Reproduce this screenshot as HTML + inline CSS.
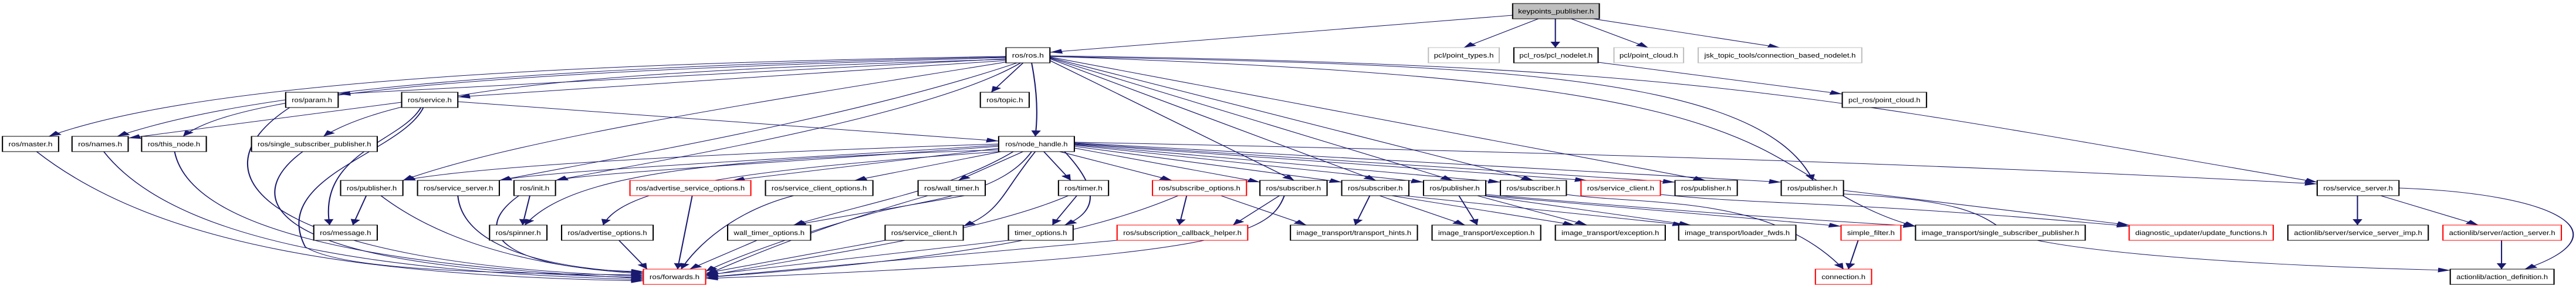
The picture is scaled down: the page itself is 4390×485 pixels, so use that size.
<!DOCTYPE html>
<html><head><meta charset="utf-8"><style>
html,body{margin:0;padding:0;background:#fff;}
svg{display:block;}
text{font-family:"Liberation Sans",sans-serif;font-size:11px;fill:#000;}
.e{fill:none;stroke:#191970;stroke-width:1;}
.n{fill:#fff;stroke:#000;stroke-width:1;}
.r{fill:#fff;stroke:#ff0000;stroke-width:1;}
.g{fill:#fff;stroke:#bfbfbf;stroke-width:1;}
</style></head><body>
<svg width="4390" height="485" viewBox="0 0 2110 485" preserveAspectRatio="none" xmlns="http://www.w3.org/2000/svg">
<defs><marker id="a" markerUnits="userSpaceOnUse" markerWidth="10" markerHeight="8" refX="10" refY="4" orient="auto"><path d="M0,0 L10,4 L0,8 z" fill="#191970"/></marker></defs>
<g class="e" marker-end="url(#a)">
<path d="M1239,26 L860,89"/>
<path d="M1260,32 L1199,81"/>
<path d="M1274,32 L1274,81"/>
<path d="M1287,32 L1350,81"/>
<path d="M1305,32 L1458,81"/>
<path d="M1309,106 L1509,160"/>
<path d="M824,96 C400,110 150,150 40,232"/>
<path d="M824,97 C400,115 200,160 96,232"/>
<path d="M824,98 C450,120 200,150 150,232"/>
<path d="M824,100 L277,160"/>
<path d="M824,103 L375,165"/>
<path d="M824,101 C500,120 330,150 265,232"/>
<path d="M826,105 C600,180 420,240 330,307"/>
<path d="M833,107 C700,200 500,270 409,307"/>
<path d="M836,107 C760,200 520,280 455,307"/>
<path d="M838,107 L812,157"/>
<path d="M845,107 C850,160 850,200 848,232"/>
<path d="M860,103 L1060,307"/>
<path d="M860,100 L1127,307"/>
<path d="M860,99 L1190,307"/>
<path d="M860,98 L1256,307"/>
<path d="M860,97 L1397,307"/>
<path d="M860,96 C1200,110 1440,120 1485,307"/>
<path d="M860,95 C1400,110 1500,170 1898,310"/>
<path d="M860,96 C1200,120 1350,160 1440,250 C1480,290 1520,360 1569,385"/>
<path d="M329,174 L105,235"/>
<path d="M375,173 L818,240"/>
<path d="M345,182 C330,240 260,260 270,383"/>
<path d="M238,182 C150,300 220,450 527,470"/>
<path d="M30,258 C130,420 300,470 527,478"/>
<path d="M85,258 C150,430 350,465 527,476"/>
<path d="M143,258 C160,430 400,460 527,474"/>
<path d="M248,258 C200,330 200,460 527,472"/>
<path d="M347,182 C330,260 220,300 250,420 C280,460 400,465 527,468"/>
<path d="M300,333 L289,383"/>
<path d="M312,333 C380,440 480,460 527,466"/>
<path d="M375,333 C380,440 480,460 527,464"/>
<path d="M434,333 L428,383"/>
<path d="M425,333 C380,400 420,460 527,462"/>
<path d="M818,245 C600,260 400,280 330,307"/>
<path d="M818,247 C650,270 450,290 409,307"/>
<path d="M818,249 C650,275 480,295 455,307"/>
<path d="M820,252 L600,307"/>
<path d="M825,256 L700,307"/>
<path d="M838,258 L785,307"/>
<path d="M855,258 L877,307"/>
<path d="M868,258 L960,307"/>
<path d="M880,252 L1032,310"/>
<path d="M880,249 L1099,310"/>
<path d="M880,247 L1166,310"/>
<path d="M880,246 L1229,310"/>
<path d="M880,245 L1300,307"/>
<path d="M880,244 L1372,310"/>
<path d="M880,243 L1459,310"/>
<path d="M880,242 C1300,260 1600,280 1898,313"/>
<path d="M818,255 C600,270 470,290 430,383"/>
<path d="M818,258 C600,290 510,320 494,383"/>
<path d="M830,258 C780,320 720,340 650,383"/>
<path d="M848,258 C820,330 820,360 789,385"/>
<path d="M872,258 C900,320 900,360 872,383"/>
<path d="M845,258 C820,330 760,340 720,360 C650,400 600,440 578,462"/>
<path d="M567,333 L555,458"/>
<path d="M650,333 C600,360 570,420 558,458"/>
<path d="M790,333 L650,383"/>
<path d="M760,333 C680,380 620,430 578,468"/>
<path d="M882,333 L862,383"/>
<path d="M875,333 C800,400 650,440 578,470"/>
<path d="M972,333 L966,383"/>
<path d="M965,333 C900,390 800,440 578,472"/>
<path d="M1000,333 L1070,383"/>
<path d="M1048,333 L1010,383"/>
<path d="M1052,333 C1040,400 1000,440 578,474"/>
<path d="M507,409 L530,458"/>
<path d="M620,409 L565,458"/>
<path d="M725,409 L578,465"/>
<path d="M826,409 L578,468"/>
<path d="M915,409 L578,472"/>
<path d="M1122,333 L1110,383"/>
<path d="M1130,333 L1200,383"/>
<path d="M1140,333 L1290,383"/>
<path d="M1150,333 L1380,383"/>
<path d="M1195,333 L1210,383"/>
<path d="M1210,333 L1300,383"/>
<path d="M1215,333 L1385,383"/>
<path d="M1217,333 L1508,385"/>
<path d="M1217,331 C1380,360 1450,370 1569,385"/>
<path d="M1283,331 C1350,350 1450,330 1510,458"/>
<path d="M1360,331 C1450,350 1500,340 1744,385"/>
<path d="M1510,324 L1744,383"/>
<path d="M1510,330 C1600,340 1620,360 1640,390 C1660,420 1800,450 2007,460"/>
<path d="M1522,409 L1514,458"/>
<path d="M1931,333 L1931,383"/>
<path d="M1950,333 L2030,383"/>
<path d="M1965,320 C2100,330 2150,400 2068,458"/>
<path d="M2049,409 L2049,458"/>
</g>
<g>
<rect x="1239" y="6" width="71" height="26" fill="#bfbfbf" stroke="#000"/><text x="1274.5" y="23" text-anchor="middle" textLength="62" lengthAdjust="spacingAndGlyphs">keypoints_publisher.h</text>
<rect class="n" x="824" y="81" width="36" height="26"/><text x="842" y="98" text-anchor="middle" textLength="26" lengthAdjust="spacingAndGlyphs">ros/ros.h</text>
<rect class="g" x="1170" y="81" width="58" height="26"/><text x="1199" y="98" text-anchor="middle" textLength="49" lengthAdjust="spacingAndGlyphs">pcl/point_types.h</text>
<rect class="n" x="1240" y="81" width="69" height="26"/><text x="1274.5" y="98" text-anchor="middle" textLength="60" lengthAdjust="spacingAndGlyphs">pcl_ros/pcl_nodelet.h</text>
<rect class="g" x="1322" y="81" width="57" height="26"/><text x="1350.5" y="98" text-anchor="middle" textLength="48" lengthAdjust="spacingAndGlyphs">pcl/point_cloud.h</text>
<rect class="g" x="1391" y="81" width="134" height="26"/><text x="1458" y="98" text-anchor="middle" textLength="124" lengthAdjust="spacingAndGlyphs">jsk_topic_tools/connection_based_nodelet.h</text>
<rect class="n" x="234" y="157" width="43" height="26"/><text x="255.5" y="174" text-anchor="middle" textLength="33" lengthAdjust="spacingAndGlyphs">ros/param.h</text>
<rect class="n" x="329" y="157" width="46" height="26"/><text x="352" y="174" text-anchor="middle" textLength="36" lengthAdjust="spacingAndGlyphs">ros/service.h</text>
<rect class="n" x="803" y="157" width="40" height="26"/><text x="823" y="174" text-anchor="middle" textLength="30" lengthAdjust="spacingAndGlyphs">ros/topic.h</text>
<rect class="n" x="1509" y="157" width="69" height="26"/><text x="1543.5" y="174" text-anchor="middle" textLength="59" lengthAdjust="spacingAndGlyphs">pcl_ros/point_cloud.h</text>
<rect class="n" x="2" y="232" width="46" height="26"/><text x="25" y="249" text-anchor="middle" textLength="36" lengthAdjust="spacingAndGlyphs">ros/master.h</text>
<rect class="n" x="59" y="232" width="46" height="26"/><text x="82" y="249" text-anchor="middle" textLength="36" lengthAdjust="spacingAndGlyphs">ros/names.h</text>
<rect class="n" x="116" y="232" width="53" height="26"/><text x="142.5" y="249" text-anchor="middle" textLength="43" lengthAdjust="spacingAndGlyphs">ros/this_node.h</text>
<rect class="n" x="206" y="232" width="103" height="26"/><text x="257.5" y="249" text-anchor="middle" textLength="93" lengthAdjust="spacingAndGlyphs">ros/single_subscriber_publisher.h</text>
<rect class="n" x="818" y="232" width="62" height="26"/><text x="849" y="249" text-anchor="middle" textLength="51" lengthAdjust="spacingAndGlyphs">ros/node_handle.h</text>
<rect class="n" x="279" y="307" width="51" height="26"/><text x="304.5" y="324" text-anchor="middle" textLength="41" lengthAdjust="spacingAndGlyphs">ros/publisher.h</text>
<rect class="n" x="342" y="307" width="67" height="26"/><text x="375.5" y="324" text-anchor="middle" textLength="57" lengthAdjust="spacingAndGlyphs">ros/service_server.h</text>
<rect class="n" x="421" y="307" width="34" height="26"/><text x="438" y="324" text-anchor="middle" textLength="24" lengthAdjust="spacingAndGlyphs">ros/init.h</text>
<rect class="r" x="516" y="307" width="99" height="26"/><text x="565.5" y="324" text-anchor="middle" textLength="89" lengthAdjust="spacingAndGlyphs">ros/advertise_service_options.h</text>
<rect class="n" x="627" y="307" width="88" height="26"/><text x="671" y="324" text-anchor="middle" textLength="78" lengthAdjust="spacingAndGlyphs">ros/service_client_options.h</text>
<rect class="n" x="752" y="307" width="55" height="26"/><text x="779.5" y="324" text-anchor="middle" textLength="45" lengthAdjust="spacingAndGlyphs">ros/wall_timer.h</text>
<rect class="n" x="867" y="307" width="41" height="26"/><text x="887.5" y="324" text-anchor="middle" textLength="31" lengthAdjust="spacingAndGlyphs">ros/timer.h</text>
<rect class="r" x="944" y="307" width="77" height="26"/><text x="982.5" y="324" text-anchor="middle" textLength="67" lengthAdjust="spacingAndGlyphs">ros/subscribe_options.h</text>
<rect class="n" x="1032" y="307" width="55" height="26"/><text x="1059.5" y="324" text-anchor="middle" textLength="45" lengthAdjust="spacingAndGlyphs">ros/subscriber.h</text>
<rect class="n" x="1099" y="307" width="55" height="26"/><text x="1126.5" y="324" text-anchor="middle" textLength="45" lengthAdjust="spacingAndGlyphs">ros/subscriber.h</text>
<rect class="n" x="1166" y="307" width="51" height="26"/><text x="1191.5" y="324" text-anchor="middle" textLength="41" lengthAdjust="spacingAndGlyphs">ros/publisher.h</text>
<rect class="n" x="1229" y="307" width="54" height="26"/><text x="1256" y="324" text-anchor="middle" textLength="44" lengthAdjust="spacingAndGlyphs">ros/subscriber.h</text>
<rect class="r" x="1295" y="307" width="65" height="26"/><text x="1327.5" y="324" text-anchor="middle" textLength="55" lengthAdjust="spacingAndGlyphs">ros/service_client.h</text>
<rect class="n" x="1372" y="307" width="51" height="26"/><text x="1397.5" y="324" text-anchor="middle" textLength="41" lengthAdjust="spacingAndGlyphs">ros/publisher.h</text>
<rect class="n" x="1459" y="307" width="51" height="26"/><text x="1484.5" y="324" text-anchor="middle" textLength="41" lengthAdjust="spacingAndGlyphs">ros/publisher.h</text>
<rect class="n" x="1898" y="307" width="67" height="26"/><text x="1931.5" y="324" text-anchor="middle" textLength="57" lengthAdjust="spacingAndGlyphs">ros/service_server.h</text>
<rect class="n" x="257" y="383" width="52" height="26"/><text x="283" y="400" text-anchor="middle" textLength="42" lengthAdjust="spacingAndGlyphs">ros/message.h</text>
<rect class="n" x="401" y="383" width="47" height="26"/><text x="424.5" y="400" text-anchor="middle" textLength="37" lengthAdjust="spacingAndGlyphs">ros/spinner.h</text>
<rect class="n" x="460" y="383" width="75" height="26"/><text x="497.5" y="400" text-anchor="middle" textLength="65" lengthAdjust="spacingAndGlyphs">ros/advertise_options.h</text>
<rect class="n" x="596" y="383" width="68" height="26"/><text x="630" y="400" text-anchor="middle" textLength="58" lengthAdjust="spacingAndGlyphs">wall_timer_options.h</text>
<rect class="n" x="725" y="383" width="64" height="26"/><text x="757" y="400" text-anchor="middle" textLength="54" lengthAdjust="spacingAndGlyphs">ros/service_client.h</text>
<rect class="n" x="826" y="383" width="53" height="26"/><text x="852.5" y="400" text-anchor="middle" textLength="43" lengthAdjust="spacingAndGlyphs">timer_options.h</text>
<rect class="r" x="915" y="383" width="107" height="26"/><text x="968.5" y="400" text-anchor="middle" textLength="97" lengthAdjust="spacingAndGlyphs">ros/subscription_callback_helper.h</text>
<rect class="n" x="1057" y="383" width="104" height="26"/><text x="1109" y="400" text-anchor="middle" textLength="94" lengthAdjust="spacingAndGlyphs">image_transport/transport_hints.h</text>
<rect class="n" x="1173" y="383" width="89" height="26"/><text x="1217.5" y="400" text-anchor="middle" textLength="79" lengthAdjust="spacingAndGlyphs">image_transport/exception.h</text>
<rect class="n" x="1274" y="383" width="90" height="26"/><text x="1319" y="400" text-anchor="middle" textLength="80" lengthAdjust="spacingAndGlyphs">image_transport/exception.h</text>
<rect class="n" x="1375" y="383" width="96" height="26"/><text x="1423" y="400" text-anchor="middle" textLength="86" lengthAdjust="spacingAndGlyphs">image_transport/loader_fwds.h</text>
<rect class="r" x="1508" y="383" width="49" height="26"/><text x="1532.5" y="400" text-anchor="middle" textLength="39" lengthAdjust="spacingAndGlyphs">simple_filter.h</text>
<rect class="n" x="1569" y="383" width="139" height="26"/><text x="1638.5" y="400" text-anchor="middle" textLength="129" lengthAdjust="spacingAndGlyphs">image_transport/single_subscriber_publisher.h</text>
<rect class="r" x="1744" y="383" width="118" height="26"/><text x="1803" y="400" text-anchor="middle" textLength="108" lengthAdjust="spacingAndGlyphs">diagnostic_updater/update_functions.h</text>
<rect class="n" x="1874" y="383" width="115" height="26"/><text x="1931.5" y="400" text-anchor="middle" textLength="105" lengthAdjust="spacingAndGlyphs">actionlib/server/service_server_imp.h</text>
<rect class="r" x="2001" y="383" width="97" height="26"/><text x="2049.5" y="400" text-anchor="middle" textLength="87" lengthAdjust="spacingAndGlyphs">actionlib/server/action_server.h</text>
<rect class="r" x="527" y="458" width="51" height="26"/><text x="552.5" y="475" text-anchor="middle" textLength="41" lengthAdjust="spacingAndGlyphs">ros/forwards.h</text>
<rect class="r" x="1487" y="458" width="46" height="26"/><text x="1510" y="475" text-anchor="middle" textLength="36" lengthAdjust="spacingAndGlyphs">connection.h</text>
<rect class="n" x="2007" y="458" width="85" height="26"/><text x="2049.5" y="475" text-anchor="middle" textLength="75" lengthAdjust="spacingAndGlyphs">actionlib/action_definition.h</text>
</g>
</svg>
</body></html>
